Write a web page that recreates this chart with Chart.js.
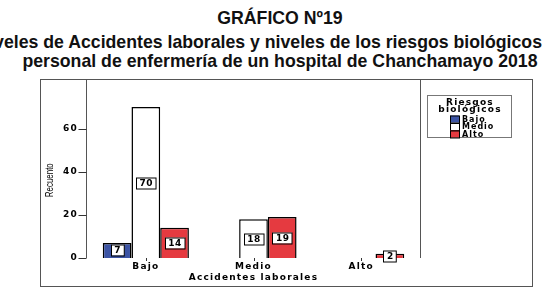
<!DOCTYPE html>
<html>
<head>
<meta charset="utf-8">
<script src="https://cdn.jsdelivr.net/npm/chart.js@4.4.1/dist/chart.umd.min.js"></script>
<style>
  body { margin: 0; width: 557px; height: 289px; background: #fff; overflow: hidden; position: relative; }
  .ttl { position: absolute; font: bold 17.7px "Liberation Sans", Arial, sans-serif; color: #111; white-space: nowrap; line-height: 20px; }
  #wrap { position: absolute; left: 40px; top: 79px; width: 493px; height: 208px; }
</style>
</head>
<body>
<div class="ttl" style="left:0;width:560px;text-align:center;top:8px">GRÁFICO Nº19</div>
<div class="ttl" style="right:15px;top:32px">Niveles de Accidentes laborales y niveles de los riesgos biológicos</div>
<div class="ttl" style="left:0;width:560px;text-align:center;top:51px">personal de enfermería de un hospital de Chanchamayo 2018</div>
<div id="wrap"><canvas id="chart"></canvas></div>
<script>
// datos del gráfico
const categorias = ["Bajo", "Medio", "Alto"];
const riesgoBajo = [7, null, null];
const riesgoMedio = [70, 18, null];
const riesgoAlto = [14, 19, 2];
const ticksY = [0, 20, 40, 60];

const FONT = "DejaVu Sans";

// marco exterior, caja del gráfico, marcas de ejes, etiquetas y leyenda
const spssPlugin = {
  id: "spss",
  beforeDraw(chart) {
    chart.ctx.letterSpacing = "1.2px";
  },
  afterDatasetsDraw(chart) {
    const ctx = chart.ctx;
    ctx.save();
    ctx.font = "bold 9px " + FONT;
    ctx.letterSpacing = "0.5px";
    ctx.textAlign = "center";
    ctx.textBaseline = "middle";
    chart.data.datasets.forEach((ds, i) => {
      chart.getDatasetMeta(i).data.forEach((bar, j) => {
        if (ds.data[j] == null) return;
        const txt = String(ds.data[j]);
        const w = ctx.measureText(txt).width + 6;
        const h = 11;
        const cy = Math.round((bar.y + bar.base) / 2);
        const x0 = Math.round(bar.x - w / 2) + 0.5;
        ctx.fillStyle = "#fff";
        ctx.fillRect(x0, cy - h / 2, w, h);
        ctx.strokeStyle = "#000";
        ctx.lineWidth = 1;
        ctx.strokeRect(x0, cy - h / 2 + 0.5, w, h);
        ctx.fillStyle = "#000";
        ctx.fillText(txt, bar.x + 0.5, cy + 1);
      });
    });
    ctx.restore();
  },
  afterDraw(chart) {
    const ctx = chart.ctx;
    const a = chart.chartArea;
    const bl = a.left - 5.5, br = a.right + 5.5;
    ctx.save();
    ctx.strokeStyle = "#555";
    ctx.lineWidth = 1;
    // marco exterior
    ctx.strokeRect(0.5, 0.5, chart.width - 1, chart.height - 1);
    // caja del área de trazado (sin borde inferior)
    ctx.beginPath();
    ctx.moveTo(bl, a.bottom);
    ctx.lineTo(bl, 0.5);
    ctx.lineTo(br, 0.5);
    ctx.lineTo(br, a.bottom);
    ctx.stroke();
    // marcas del eje Y
    const ys = chart.scales.y;
    ctx.strokeStyle = "#333";
    ctx.beginPath();
    ys.ticks.forEach((t) => {
      const y = Math.round(ys.getPixelForValue(t.value)) + 0.5;
      ctx.moveTo(bl - 8, y);
      ctx.lineTo(bl, y);
    });
    // marcas del eje X
    const xs = chart.scales.x;
    categorias.forEach((c, i) => {
      const x = Math.round(xs.getPixelForValue(i)) + 0.5;
      ctx.moveTo(x, a.bottom);
      ctx.lineTo(x, a.bottom + 3);
    });
    ctx.stroke();

    // título del eje Y (letra estrecha)
    ctx.save();
    ctx.translate(10, (a.top + a.bottom) / 2 + 2);
    ctx.rotate(-Math.PI / 2);
    ctx.scale(0.72, 1);
    ctx.letterSpacing = "0px";
    ctx.font = '11px "Liberation Sans", sans-serif';
    ctx.fillStyle = "#000";
    ctx.textAlign = "center";
    ctx.textBaseline = "middle";
    ctx.fillText("Recuento", 0, 0);
    ctx.restore();

    // leyenda
    const lx = 387, ly = 16, lw = 84, lh = 42;
    ctx.strokeStyle = "#777";
    ctx.strokeRect(lx + 0.5, ly + 0.5, lw, lh);
    ctx.fillStyle = "#000";
    ctx.font = "bold 9px " + FONT;
    ctx.letterSpacing = "1.2px";
    ctx.textAlign = "center";
    ctx.textBaseline = "middle";
    ctx.fillText("Riesgos", lx + lw / 2 + 1, ly + 8);
    ctx.fillText("biológicos", lx + lw / 2 + 1, ly + 15);
    ctx.font = "bold 8px " + FONT;
    ctx.letterSpacing = "1px";
    ctx.textAlign = "left";
    chart.data.datasets.forEach((ds, i) => {
      const y = ly + 23.5 + i * 7.5;
      ctx.fillStyle = ds.backgroundColor;
      ctx.fillRect(lx + 23, y - 3, 9, 7);
      ctx.strokeStyle = "#000";
      ctx.strokeRect(lx + 23.5, y - 2.5, 9, 7);
      ctx.fillStyle = "#000";
      ctx.fillText(ds.label, lx + 35, y + 1);
    });
    ctx.restore();
  },
};

new Chart(document.getElementById("chart"), {
  type: "bar",
  data: {
    labels: categorias,
    datasets: [
      { label: "Bajo", data: riesgoBajo, backgroundColor: "#3c54a5" },
      { label: "Medio", data: riesgoMedio, backgroundColor: "#ffffff" },
      { label: "Alto", data: riesgoAlto, backgroundColor: "#e53a40" },
    ],
  },
  options: {
    responsive: true,
    maintainAspectRatio: false,
    animation: false,
    layout: { padding: { top: 0, right: 118, bottom: 0, left: 0 } },
    datasets: {
      bar: {
        borderColor: "#000",
        borderWidth: 1.5,
        categoryPercentage: 0.8,
        barPercentage: 1,
      },
    },
    plugins: {
      legend: { display: false },
      tooltip: { enabled: false },
    },
    scales: {
      x: {
        grid: { display: false, drawTicks: false },
        border: { display: false },
        ticks: { color: "#000", font: { family: FONT, size: 9, weight: "bold" }, padding: 3 },
        title: {
          display: true,
          text: "Accidentes laborales",
          color: "#000",
          font: { family: FONT, size: 9, weight: "bold" },
          padding: { top: 0, bottom: 4 },
        },
        afterFit(scale) { scale.height = 29; },
      },
      y: {
        min: 0,
        max: 74,
        afterBuildTicks(scale) { scale.ticks = ticksY.map((v) => ({ value: v })); },
        grid: { display: false, drawTicks: false },
        border: { display: false },
        ticks: { color: "#000", font: { family: FONT, size: 9, weight: "bold" }, padding: 14 },
        afterFit(scale) { scale.width = 52; },
      },
    },
  },
  plugins: [spssPlugin],
});
</script>
</body>
</html>
